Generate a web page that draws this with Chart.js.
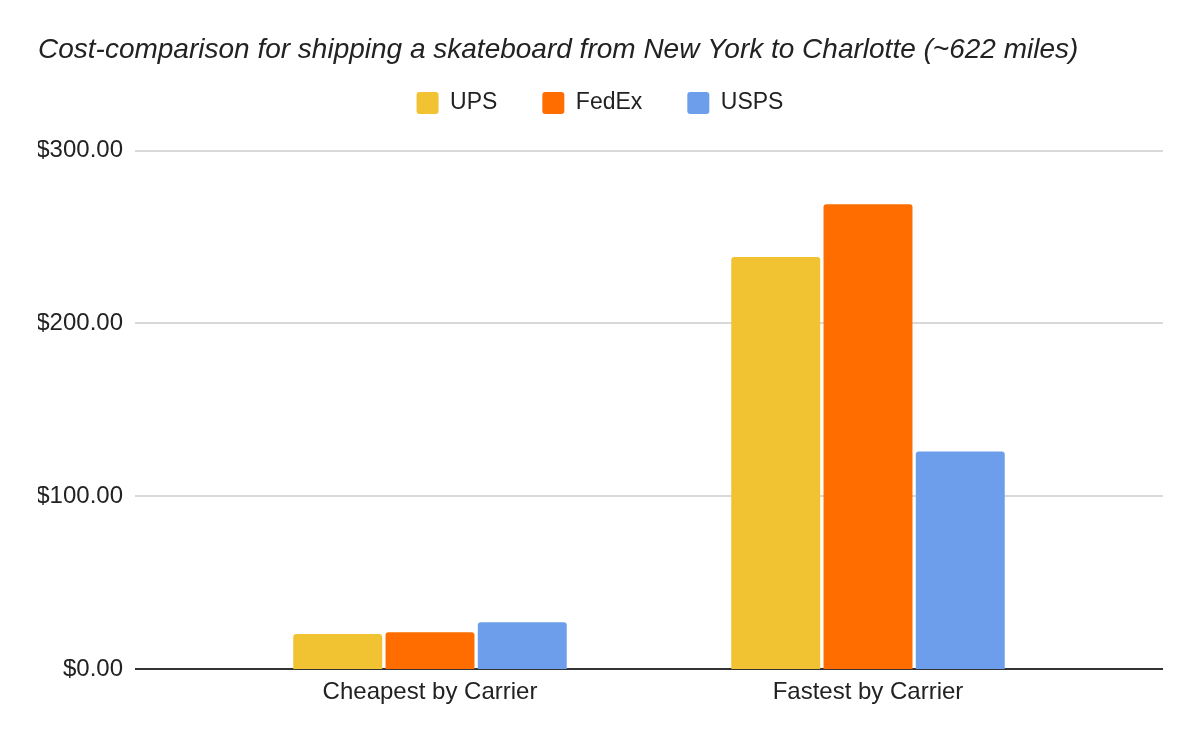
<!DOCTYPE html>
<html>
<head>
<meta charset="utf-8">
<script src="https://cdn.jsdelivr.net/npm/chart.js@4/dist/chart.umd.min.js"></script>
<style>
    html, body { margin: 0; padding: 0; background: #ffffff; }
    #wrap { width: 1200px; height: 742px; }
</style>
</head>
<body>
<div id="wrap"><canvas id="grafico"></canvas></div>
<script>
const categorias = ["Cheapest by Carrier", "Fastest by Carrier"];
const ups = [20.3, 238.4];
const fedex = [21.3, 268.9];
const usps = [27.1, 125.8];
const ticksY = [0, 100, 200, 300];

const fonte = "'Liberation Sans', Arial, sans-serif";

// linhas de grade mais largas que a area do grafico
const linhasGrade = {
    id: 'linhasGrade',
    beforeDatasetsDraw(chart) {
        const ctx = chart.ctx;
        const area = chart.chartArea;
        const y = chart.scales.y;
        const x0 = area.left - 76, x1 = area.right + 76;
        ctx.save();
        ticksY.forEach(function (v) {
            const py = Math.round(y.getPixelForValue(v));
            ctx.beginPath();
            ctx.strokeStyle = v === 0 ? '#333333' : '#cccccc';
            ctx.lineWidth = v === 0 ? 2 : 1.5;
            ctx.moveTo(x0, py);
            ctx.lineTo(x1, py);
            ctx.stroke();
        });
        ctx.restore();
    }
};

const espacoLegenda = {
    id: 'espacoLegenda',
    beforeInit(chart) {
        const fitOriginal = chart.legend.fit;
        chart.legend.fit = function () {
            fitOriginal.bind(chart.legend)();
            this.height += 26;
        };
    }
};

const ctx = document.getElementById('grafico').getContext('2d');
const graficoBarras = new Chart(ctx, {
    type: 'bar',
    data: {
        labels: categorias,
        datasets: [
            { label: 'UPS', data: ups, backgroundColor: '#f1c232' },
            { label: 'FedEx', data: fedex, backgroundColor: '#ff6d01' },
            { label: 'USPS', data: usps, backgroundColor: '#6d9eeb' }
        ]
    },
    plugins: [linhasGrade, espacoLegenda],
    options: {
        responsive: true,
        maintainAspectRatio: false,
        animation: false,
        devicePixelRatio: 1,
        layout: { padding: { left: 38, right: 38, top: 0, bottom: 0 } },
        datasets: {
            bar: {
                categoryPercentage: 0.632,
                barPercentage: 0.964,
                borderRadius: 3,
                borderSkipped: 'bottom'
            }
        },
        plugins: {
            title: {
                display: true,
                text: 'Cost-comparison for shipping a skateboard from New York to Charlotte (~622 miles)',
                align: 'start',
                color: '#222222',
                font: { family: fonte, size: 28, style: 'italic', weight: 'normal' },
                padding: { top: 33, bottom: -20 }
            },
            legend: {
                display: true,
                position: 'top',
                align: 'center',
                labels: {
                    color: '#222222',
                    font: { family: fonte, size: 23 },
                    boxWidth: 22,
                    boxHeight: 22,
                    useBorderRadius: true,
                    borderRadius: 3,
                    padding: 45
                }
            },
            tooltip: { enabled: false }
        },
        scales: {
            x: {
                afterFit: function (scale) { scale.height = 73; },
                grid: { display: false, drawTicks: false },
                border: { display: false },
                ticks: {
                    color: '#222222',
                    font: { family: fonte, size: 24 },
                    padding: 9
                }
            },
            y: {
                min: 0,
                max: 300,
                afterBuildTicks: function (scale) {
                    scale.ticks = ticksY.map(v => ({ value: v }));
                },
                afterFit: function (scale) {
                    scale.width = 173;
                    scale.paddingTop = 15;
                    scale.paddingBottom = 15;
                },
                grid: { display: false, drawTicks: false },
                border: { display: false },
                ticks: {
                    color: '#222222',
                    font: { family: fonte, size: 24 },
                    padding: 88,
                    callback: function (v) { return '$' + Number(v).toFixed(2); }
                }
            },
            y2: {
                position: 'right',
                display: true,
                afterFit: function (scale) { scale.width = 75; },
                grid: { display: false, drawTicks: false },
                border: { display: false },
                ticks: { display: false }
            }
        }
    }
});
</script>
</body>
</html>
